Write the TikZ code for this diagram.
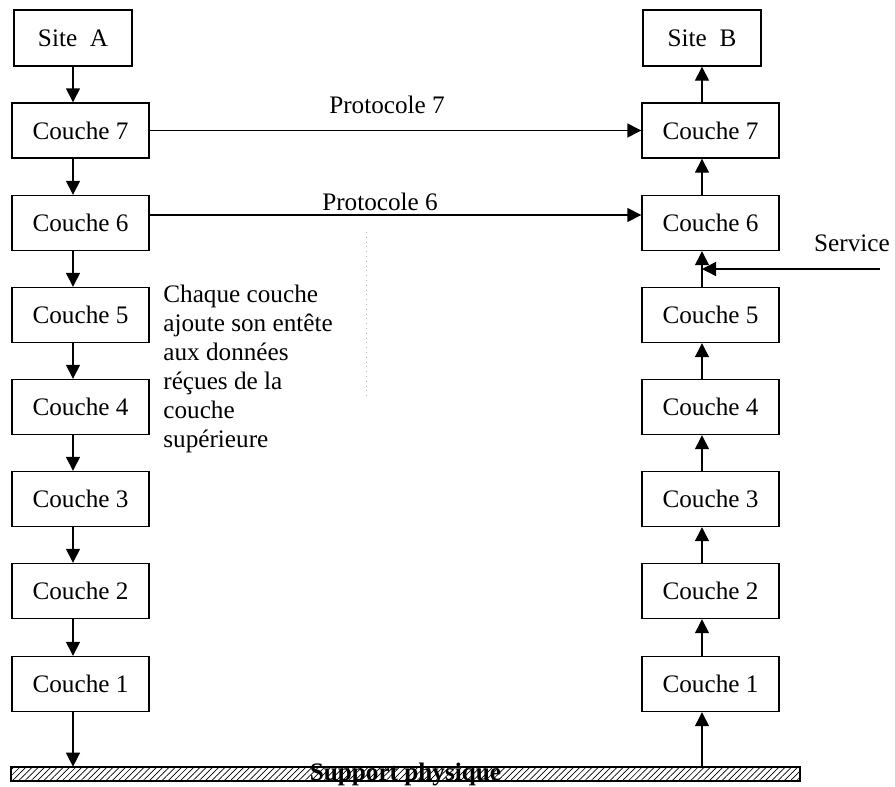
\documentclass[tikz,border=0pt]{standalone}
\usepackage{fontspec}
\setmainfont{Liberation Serif}
\usetikzlibrary{positioning, arrows.meta, patterns.meta}
\tikzset{couche/.style={draw,line width=0.7pt,minimum width=68.5pt,minimum height=27.5pt,inner sep=0pt},
         site/.style={draw,line width=0.7pt,minimum width=59pt,minimum height=28pt,inner sep=0pt},
         fleche/.style={-{Triangle[length=7pt,width=7pt]},line width=0.7pt},
         support/.style={draw,line width=0.6pt,minimum width=394.5pt,minimum height=7pt,inner sep=0pt,
                         pattern={Lines[angle=45,distance=2.2pt,line width=0.35pt]}},
        }

\begin{document}
\begin{tikzpicture}[x=0.5pt,y=-0.5pt,font=\fontsize{12.6}{14.5}\selectfont]
        \useasboundingbox (0,0) rectangle (895,787);
        % site A
        \node[site](sa)at(73,38){Site\ \ A};
        \node[couche](c7l)at(80.5,130.5){Couche 7};
        \node[couche](c6l)at(80.5,223){Couche 6};
        \node[couche](c5l)at(80.5,315){Couche 5};
        \node[couche](c4l)at(80.5,407){Couche 4};
        \node[couche](c3l)at(80.5,499){Couche 3};
        \node[couche](c2l)at(80.5,591){Couche 2};
        \node[couche](c1l)at(80.5,684){Couche 1};
        % site B
        \node[site](sb)at(702,38){Site\ \ B};
        \node[couche](c7r)at(710.5,130.5){Couche 7};
        \node[couche](c6r)at(710.5,223){Couche 6};
        \node[couche](c5r)at(710.5,315){Couche 5};
        \node[couche](c4r)at(710.5,407){Couche 4};
        \node[couche](c3r)at(710.5,499){Couche 3};
        \node[couche](c2r)at(710.5,591){Couche 2};
        \node[couche](c1r)at(710.5,684){Couche 1};
        % support
        \node[support](bar)at(405.5,774){};
        \node[font=\fontsize{12.6}{14.5}\selectfont\bfseries,inner sep=0pt](sp)at(bar.center){Support physique};
        % descente
        \draw[fleche](sa.south)--(sa.south|-c7l.north);
        \draw[fleche](sa.south|-c7l.south)--(sa.south|-c6l.north);
        \draw[fleche](sa.south|-c6l.south)--(sa.south|-c5l.north);
        \draw[fleche](sa.south|-c5l.south)--(sa.south|-c4l.north);
        \draw[fleche](sa.south|-c4l.south)--(sa.south|-c3l.north);
        \draw[fleche](sa.south|-c3l.south)--(sa.south|-c2l.north);
        \draw[fleche](sa.south|-c2l.south)--(sa.south|-c1l.north);
        \draw[fleche](sa.south|-c1l.south)--(sa.south|-bar.north);
        % montee
        \draw[fleche](sb.south|-bar.north)--(sb.south|-c1r.south);
        \draw[fleche](sb.south|-c1r.north)--(sb.south|-c2r.south);
        \draw[fleche](sb.south|-c2r.north)--(sb.south|-c3r.south);
        \draw[fleche](sb.south|-c3r.north)--(sb.south|-c4r.south);
        \draw[fleche](sb.south|-c4r.north)--(sb.south|-c5r.south);
        \draw[fleche](sb.south|-c5r.north)--(sb.south|-c6r.south);
        \draw[fleche](sb.south|-c6r.north)--(sb.south|-c7r.south);
        \draw[fleche](sb.south|-c7r.north)--(sb.south);
        % protocoles
        \draw[fleche](c7l.east)--(c7r.west);
        \node(p7)at(387,105){Protocole 7};
        \draw[fleche]([yshift=4pt]c6l.east)--([yshift=4pt]c6r.west);
        \node(p6)at(380,202){Protocole 6};
        % service
        \coordinate(srv)at(880,269);
        \draw[fleche](srv)--(sb.south|-srv);
        \node(sv)at(852,243){Service};
        % texte
        \draw[gray!60,dotted,line width=0.4pt](366,232)--(366,397);
        \node[anchor=north west,align=left,inner sep=0pt](txt)at(163,285){Chaque couche\\ajoute son entête\\aux données\\réçues de la\\couche\\supérieure};
    \end{tikzpicture}
\end{document}
